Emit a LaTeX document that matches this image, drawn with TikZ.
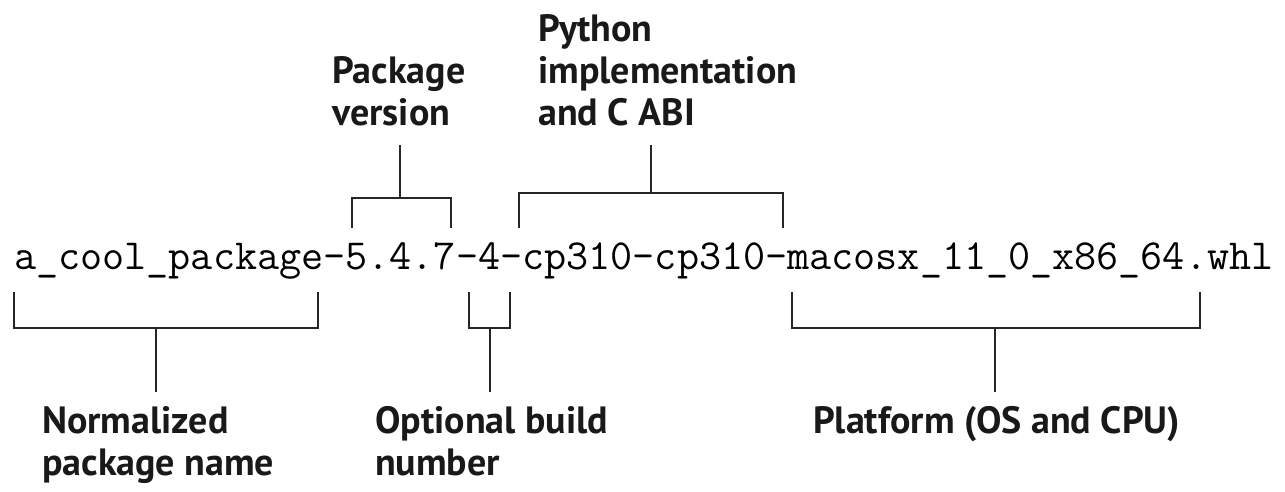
\documentclass[tikz,border=0pt]{standalone}
\usepackage{fontspec}
\setmainfont{PT Sans}
\usetikzlibrary{positioning}
\tikzset{
  brace/.style={line width=1.8pt, draw=black!85},
  partname/.style={font=\bfseries\fontsize{38}{42}\selectfont, text=black!90,
    align=left, inner sep=0pt, anchor=base west},
}
\begin{document}
\begin{tikzpicture}[x=1pt, y=-1pt]
  \useasboundingbox (0,0) rectangle (1285,491);
  % wheel file name
  \node[anchor=base west, inner sep=0pt, font=\ttfamily\fontsize{42.9}{44}\selectfont]
    (fname) at (14,269) {a\_cool\_package-5.4.7-4-cp310-cp310-macosx\_11\_0\_x86\_64.whl};
  % labels (base = last line)
  \node[partname] (pkgver) at (332,125) {Package\\version};
  \node[partname] (pyabi) at (538,125) {Python\\implementation\\and C ABI};
  \node[partname] (normname) at (42,475) {Normalized\\package name};
  \node[partname] (build) at (375,475) {Optional build\\number};
  \node[partname] (platform) at (813,433) {Platform (OS and CPU)};
  % brackets above
  \coordinate (pv) at (400,198);
  \coordinate (py) at (651,193);
  \draw[brace] (352,228) |- (pv) -| (451,228);
  \draw[brace] (519,228) |- (py) -| (783,228);
  \draw[brace] (pv) -- (400,145);
  \draw[brace] (py) -- (651,145);
  % brackets below
  \coordinate (nn) at (156,328);
  \coordinate (ob) at (490,328);
  \coordinate (pf) at (995,328);
  \draw[brace] (14,292) |- (nn) -| (318,292);
  \draw[brace] (469,292) |- (ob) -| (510,292);
  \draw[brace] (792,292) |- (pf) -| (1200,292);
  \draw[brace] (nn) -- (156,392);
  \draw[brace] (ob) -- (490,392);
  \draw[brace] (pf) -- (995,392);
\end{tikzpicture}
\end{document}
